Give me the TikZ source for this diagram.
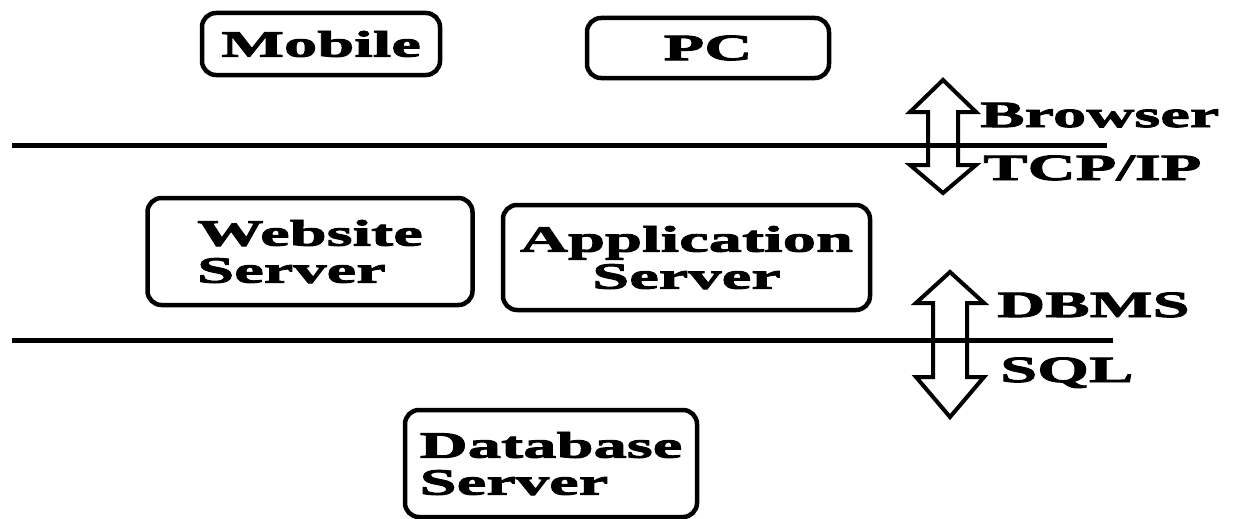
\documentclass[tikz,border=0pt]{standalone}
\usepackage{fontspec}
\newfontfamily\widefont[FakeStretch=1.8,FakeBold=2.6]{Liberation Serif}
\begin{document}
\begin{tikzpicture}[x=1pt,y=-1pt,
  txt/.style={font=\widefont\bfseries\fontsize{37}{37}\selectfont, text=black},
  tier/.style={txt, draw=black, line width=4.5pt, rounded corners=14pt, inner sep=0pt},
  layerline/.style={line width=5pt},
  blockarrow/.style={draw=black, fill=white, line width=4pt, line join=miter},
  tag/.style={txt, anchor=base west, inner sep=0pt}
]
  % canvas
  \useasboundingbox[fill=white] (0,0) rectangle (1244,519);

  % client tier
  \node[tier, minimum width=238pt, minimum height=62pt] (mobile) at (321,44) {Mobile};
  \node[tier, minimum width=242pt, minimum height=60pt] (pc) at (708,48) {PC};

  % server tier
  \node[tier, minimum width=325pt, minimum height=107pt, align=left] (web) at (310,251.5) {Website\\Server};
  \node[tier, minimum width=367pt, minimum height=105pt, align=center] (app) at (686.5,257.5) {Application\\Server};

  % data tier
  \node[tier, minimum width=292pt, minimum height=107pt, align=left] (db) at (551,463.5) {Database\\Server};

  % protocol arrows between tiers
  \draw[blockarrow] (943,80) -- (976,112) -- (958,112) -- (958,165) -- (976,165)
        -- (943,193) -- (910,165) -- (928,165) -- (928,112) -- (910,112) -- cycle;
  \draw[blockarrow] (950,272) -- (984,303) -- (967,303) -- (967,377) -- (984,377)
        -- (950,417) -- (916,377) -- (933,377) -- (933,303) -- (916,303) -- cycle;

  % layer boundaries
  \coordinate (l1a) at (12,145);
  \coordinate (l1b) at (1107,145);
  \coordinate (l2a) at (12,340);
  \coordinate (l2b) at (1113,340);
  \draw[layerline] (l1a) -- (l1b);
  \draw[layerline] (l2a) -- (l2b);

  % labels
  \node[tag] (browser) at (980,127) {Browser};
  \node[tag] (tcpip) at (983,180) {TCP/IP};
  \node[tag] (dbms) at (997,317) {DBMS};
  \node[tag] (sql) at (1000,382) {SQL};
\end{tikzpicture}
\end{document}
